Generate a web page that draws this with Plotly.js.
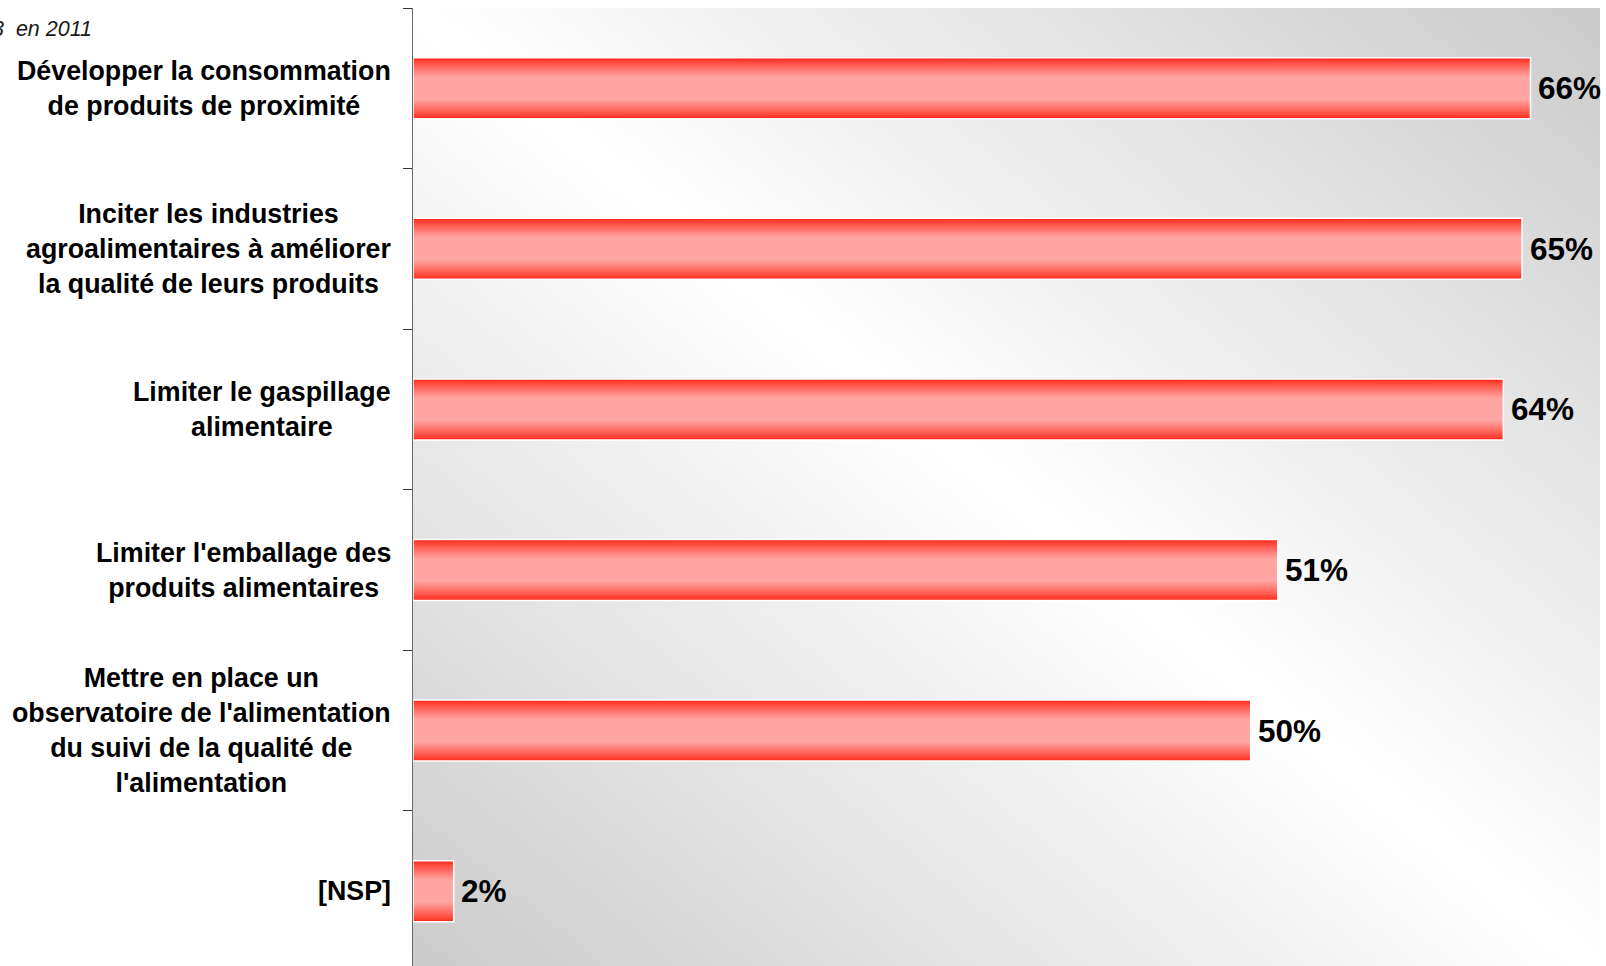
<!DOCTYPE html>
<html>
<head>
<meta charset="utf-8">
<script src="https://cdn.plot.ly/plotly-3.0.1.min.js"></script>
<style>
  html, body { margin: 0; padding: 0; background: #ffffff; }
  #chart { width: 1606px; height: 966px; }
</style>
</head>
<body>
<div id="chart"></div>
<script>
// ---- data ----
const categories = [
  "Développer la consommation<br>de produits de proximité",
  "Inciter les industries<br>agroalimentaires à améliorer<br>la qualité de leurs produits",
  "Limiter le gaspillage<br>alimentaire",
  "Limiter l'emballage des<br>produits alimentaires",
  "Mettre en place un<br>observatoire de l'alimentation<br>du suivi de la qualité de<br>l'alimentation",
  "[NSP]"
];
const values = [65.9, 65.4, 64.3, 51.0, 49.4, 2.4];
const valueLabels = ["66%", "65%", "64%", "51%", "50%", "2%"];
const cornerText = "3\u00a0\u00a0en 2011";

// ---- styling ----
const FONT = "'Liberation Sans', Arial, Helvetica, sans-serif";
const BAR_W = 0.38;
const RED = [255, 44, 30];
const PINK = [255, 166, 162];
const N_LAYERS = 12;

const traces = [];
for (let i = 0; i < N_LAYERS; i++) {
  const t = i / (N_LAYERS - 1);
  const frac = 1 - t * 0.62;
  const e = Math.pow(t, 0.85);
  const c = RED.map((r, k) => Math.round(r + (PINK[k] - r) * e));
  traces.push({
    type: "bar",
    orientation: "h",
    y: categories,
    x: values,
    width: BAR_W * frac,
    marker: { color: `rgb(${c[0]},${c[1]},${c[2]})`, line: { width: 0 } },
    hoverinfo: "skip",
    showlegend: false
  });
}
// outline on top
traces.push({
  type: "bar",
  orientation: "h",
  y: categories,
  x: values,
  width: BAR_W,
  marker: { color: "rgba(0,0,0,0)", line: { color: "#ffffff", width: 1.5 } },
  hoverinfo: "skip",
  showlegend: false
});

const annotations = [];
categories.forEach((cat, i) => {
  annotations.push({
    xref: "paper", yref: "y", x: 0, y: cat,
    xanchor: "right", yanchor: "middle", align: "center",
    xshift: -22.5,
    text: "<b>" + cat + "</b>",
    showarrow: false, borderpad: 0, borderwidth: 0,
    font: { family: FONT, size: 26.8, color: "#000000" }
  });
  annotations.push({
    xref: "x", yref: "y", x: values[i], y: cat,
    xanchor: "left", yanchor: "middle",
    xshift: 7.5,
    text: "<b>" + valueLabels[i] + "</b>",
    showarrow: false, borderpad: 0, borderwidth: 0,
    font: { family: FONT, size: 31.5, color: "#000000" }
  });
});
annotations.push({
  xref: "paper", yref: "paper", x: 0, y: 1,
  xanchor: "left", yanchor: "middle",
  xshift: -421, yshift: -20.7,
  text: "<i>" + cornerText + "</i>",
  showarrow: false, borderpad: 0, borderwidth: 0,
  font: { family: FONT, size: 21.5, color: "#1a1a1a" }
});

const svgBg =
  '<svg xmlns="http://www.w3.org/2000/svg" width="100" height="100" viewBox="0 0 100 100" preserveAspectRatio="none">' +
  '<defs><linearGradient id="g" x1="1" y1="0" x2="0" y2="1">' +
  '<stop offset="0" stop-color="#cbcbcb"/>' +
  '<stop offset="0.5" stop-color="#ffffff"/>' +
  '<stop offset="1" stop-color="#cbcbcb"/>' +
  '</linearGradient></defs><rect x="0" y="0" width="100" height="100" fill="url(#g)"/></svg>';

const layout = {
  width: 1606,
  height: 966,
  margin: { l: 412.5, r: 6, t: 8, b: 0, pad: 0 },
  paper_bgcolor: "#ffffff",
  plot_bgcolor: "rgba(0,0,0,0)",
  barmode: "overlay",
  showlegend: false,
  font: { family: FONT, color: "#000000" },
  xaxis: {
    range: [0, 70],
    showgrid: false, zeroline: false, showline: false,
    showticklabels: false, ticks: "", fixedrange: true
  },
  yaxis: {
    type: "category",
    categoryorder: "array",
    categoryarray: categories,
    range: [5.466, -0.5],
    showgrid: false, zeroline: false,
    showline: true, linecolor: "#6a6a6a", linewidth: 1.5,
    ticks: "outside", tickson: "boundaries", ticklen: 9,
    tickcolor: "#333333", tickwidth: 1,
    showticklabels: false, fixedrange: true
  },
  images: [{
    source: "data:image/svg+xml;charset=utf-8," + encodeURIComponent(svgBg),
    xref: "paper", yref: "paper",
    x: 0, y: 1, sizex: 1, sizey: 1.005,
    xanchor: "left", yanchor: "top",
    sizing: "stretch", layer: "below"
  }],
  annotations: annotations
};

Plotly.newPlot("chart", traces, layout, { displayModeBar: false, staticPlot: true });
</script>
</body>
</html>
